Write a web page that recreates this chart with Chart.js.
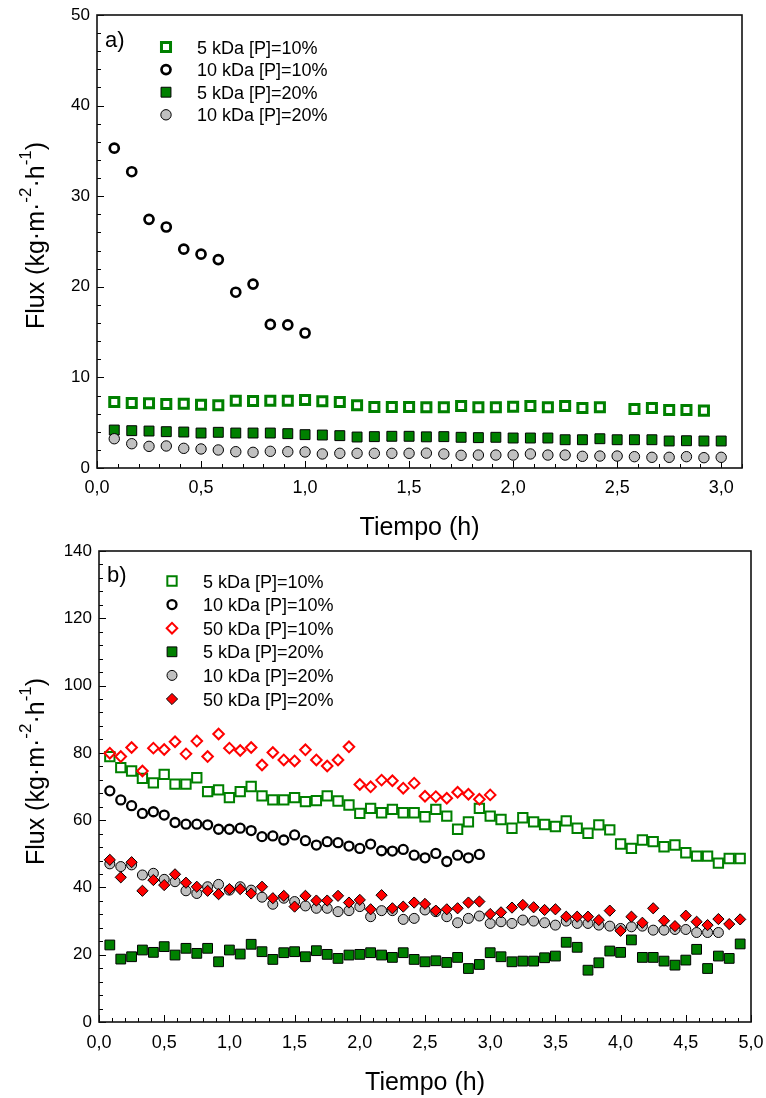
<!DOCTYPE html>
<html><head><meta charset="utf-8">
<script src="https://cdn.jsdelivr.net/npm/chart.js@4.4.1/dist/chart.umd.min.js"></script>
<style>
html,body{margin:0;padding:0;background:#fff;}
#wa{position:absolute;left:0;top:0;width:766px;height:540px;}
#wb{position:absolute;left:0;top:540px;width:766px;height:558px;}
</style></head><body>
<div id="wa"><canvas id="ca"></canvas></div>
<div id="wb"><canvas id="cb"></canvas></div>
<script>
// ---------- DATA ----------
const tiempo = [0.083,0.167,0.250,0.333,0.417,0.500,0.583,0.667,0.750,0.833,0.917,1.000,1.083,1.167,1.250,1.333,1.417,1.500,1.583,1.667,1.750,1.833,1.917,2.000,2.083,2.167,2.250,2.333,2.417,2.500,2.583,2.667,2.750,2.833,2.917,3.000,3.083,3.167,3.250,3.333,3.417,3.500,3.583,3.667,3.750,3.833,3.917,4.000,4.083,4.167,4.250,4.333,4.417,4.500,4.583,4.667,4.750,4.833,4.917];

// Panel a)
const a_5kDa_10 = [7.28,7.17,7.14,7.06,7.10,6.99,6.92,7.43,7.39,7.43,7.43,7.51,7.36,7.28,6.92,6.73,6.73,6.73,6.70,6.70,6.84,6.70,6.70,6.77,6.84,6.70,6.84,6.62,6.70,null,6.51,6.62,6.40,6.40,6.33,null];
const a_10kDa_10 = [35.3,32.7,27.45,26.6,24.15,23.6,23.0,19.4,20.3,15.85,15.8,14.9];
const a_5kDa_20 = [4.19,4.12,4.08,4.01,3.97,3.86,3.94,3.86,3.86,3.86,3.79,3.68,3.64,3.57,3.42,3.46,3.50,3.50,3.44,3.46,3.39,3.35,3.39,3.31,3.31,3.31,3.12,3.12,3.23,3.12,3.12,3.12,2.98,3.01,2.98,2.98];
const a_10kDa_20 = [3.23,2.68,2.39,2.43,2.17,2.10,1.99,1.80,1.73,1.84,1.80,1.77,1.55,1.62,1.62,1.62,1.62,1.62,1.64,1.55,1.40,1.43,1.43,1.43,1.55,1.43,1.43,1.29,1.32,1.32,1.25,1.18,1.18,1.25,1.14,1.18];

// Panel b)
const b_5kDa_10 = [78.9,75.6,74.6,72.4,71.1,73.6,70.7,70.7,72.6,68.5,69.0,66.7,68.5,70.0,67.2,66.0,66.0,66.7,65.5,65.8,67.2,65.7,64.5,62.0,63.5,62.2,63.2,62.2,62.2,61.0,63.2,61.2,57.3,59.5,63.5,61.2,60.2,57.6,60.7,59.5,58.7,58.1,59.8,57.6,56.1,58.6,57.1,52.9,51.6,54.1,53.6,52.1,52.6,50.3,49.3,49.3,47.2,48.6,48.6];
const b_10kDa_10 = [68.7,66.0,64.3,62.0,62.5,61.5,59.3,58.8,58.8,58.6,57.3,57.3,57.6,56.9,55.1,55.3,54.1,55.6,53.9,52.6,53.6,53.3,52.3,51.6,52.9,50.9,50.8,51.3,49.6,48.8,50.1,47.7,49.6,48.8,49.8];
const b_50kDa_10 = [79.9,78.9,81.6,74.6,81.4,81.0,83.3,79.7,83.5,78.9,85.6,81.4,80.7,81.6,76.4,80.1,77.9,77.6,80.9,77.9,76.1,77.9,81.8,70.6,69.9,71.9,71.7,69.5,71.0,67.1,67.0,66.5,68.3,67.7,66.2,67.5];
const b_5kDa_20 = [22.9,18.7,19.4,21.4,20.7,22.4,19.9,21.9,20.4,21.9,17.9,21.4,20.2,23.1,20.9,18.6,20.6,20.9,19.4,21.2,20.1,18.9,19.9,20.1,20.6,19.9,19.2,20.6,18.6,17.9,18.2,17.7,19.2,15.9,17.1,20.6,19.4,17.9,18.1,18.1,19.1,19.6,23.7,22.2,15.4,17.6,21.1,20.7,24.4,19.2,19.2,18.1,16.9,18.4,21.6,15.9,19.6,18.9,23.2];
const b_10kDa_20 = [47.0,46.2,46.7,43.7,44.2,42.4,41.7,39.0,38.2,40.2,40.9,39.2,40.2,39.2,37.1,35.0,36.8,35.8,34.5,33.8,33.8,32.8,33.1,34.3,31.3,33.1,33.1,30.5,30.8,33.3,32.8,31.3,29.5,30.8,31.5,29.3,29.8,29.3,30.3,30.0,29.5,28.8,30.0,29.3,29.3,28.8,28.5,27.8,28.3,28.5,27.3,27.3,27.5,27.5,26.6,26.6,26.6];
const b_50kDa_20 = [48.2,43.0,47.5,39.0,42.2,40.7,43.9,41.4,40.2,39.0,38.0,39.5,39.5,38.2,40.2,36.8,37.5,34.3,37.5,36.1,36.1,37.5,35.5,36.3,33.5,37.7,33.8,34.3,35.5,35.1,33.1,33.5,33.8,35.5,35.8,32.1,32.6,34.0,34.8,34.1,33.3,33.5,31.3,31.3,31.3,30.3,33.1,27.1,31.3,29.5,33.8,30.1,28.5,31.6,29.8,28.8,30.6,29.1,30.5];

const seriesA = ['5 kDa [P]=10%','10 kDa [P]=10%','5 kDa [P]=20%','10 kDa [P]=20%'];
const seriesB = ['5 kDa [P]=10%','10 kDa [P]=10%','50 kDa [P]=10%','5 kDa [P]=20%','10 kDa [P]=20%','50 kDa [P]=20%'];

const xTicksA = [0,0.5,1.0,1.5,2.0,2.5,3.0];
const xTicksB = [0,0.5,1.0,1.5,2.0,2.5,3.0,3.5,4.0,4.5,5.0];
const yTicksA = [0,10,20,30,40,50];
const yTicksB = [0,20,40,60,80,100,120,140];

const xTitle = 'Tiempo (h)';
const panelTags = ['a)','b)'];

// ---------- STYLE ----------
const FF = "'Liberation Sans', Arial, Helvetica, sans-serif";
const GREEN = '#008000', RED = '#ff0000', GREY = '#c0c0c0', NONE = 'rgba(255,255,255,0)';

function pts(vals){ return vals.map((v,i)=>({x: tiempo[i], y: v})); }
function ds(label, vals, style, r, bw, border, fill, order){
  return {label, data: pts(vals), showLine:false, pointStyle:style, pointRadius:r, pointHoverRadius:r,
          pointBorderWidth:bw, pointHoverBorderWidth:bw, pointBorderColor:border, pointBackgroundColor:fill,
          borderColor:border, backgroundColor:fill, order};
}
const fmtX = v => Number(v).toFixed(1).replace('.', ',');

// ---------- DECORATION PLUGIN ----------
const deco = {
  id:'deco',
  beforeDatasetsDraw(chart, args, o){
    const {ctx, chartArea:ca, scales:{x, y}} = chart;
    ctx.save();
    ctx.strokeStyle = '#000'; ctx.lineWidth = 1;
    ctx.beginPath();
    const nx = Math.round((x.max - x.min)/o.xMinor);
    for (let k=0;k<=nx;k++){
      const v = x.min + k*o.xMinor;
      const r = v/o.xMajor, major = Math.abs(r-Math.round(r))<1e-6;
      const px = Math.round(x.getPixelForValue(v))+0.5;
      ctx.moveTo(px, ca.bottom); ctx.lineTo(px, ca.bottom-(major?7:4));
    }
    const ny = Math.round((y.max - y.min)/o.yMinor);
    for (let k=0;k<=ny;k++){
      const v = y.min + k*o.yMinor;
      const r = v/o.yMajor, major = Math.abs(r-Math.round(r))<1e-6;
      const py = Math.round(y.getPixelForValue(v))+0.5;
      ctx.moveTo(ca.left, py); ctx.lineTo(ca.left+(major?7:4), py);
    }
    ctx.stroke();
    ctx.lineWidth = 1.6; ctx.strokeStyle = '#111';
    ctx.strokeRect(ca.left, ca.top, ca.right-ca.left, ca.bottom-ca.top);
    ctx.restore();
  },
  afterDraw(chart, args, o){
    const {ctx, chartArea:ca} = chart;
    ctx.save();
    ctx.fillStyle = '#000';
    // panel tag
    ctx.font = '22px ' + FF; ctx.textAlign = 'left'; ctx.textBaseline = 'alphabetic';
    ctx.fillText(o.tag, o.tagX, o.tagY);
    // legend
    chart.data.datasets.forEach((d, i) => {
      const cy = o.legY0 + i*o.legDy;
      ctx.save();
      ctx.fillStyle = d.pointBackgroundColor; ctx.strokeStyle = d.pointBorderColor; ctx.lineWidth = d.pointBorderWidth;
      Chart.helpers.drawPoint(ctx, {pointStyle:d.pointStyle, radius:d.pointRadius, rotation:0, borderWidth:d.pointBorderWidth}, o.legX, cy);
      ctx.restore();
      ctx.font = '18px ' + FF; ctx.fillStyle = '#000'; ctx.textAlign='left'; ctx.textBaseline='alphabetic';
      ctx.fillText(d.label, o.legTextX, cy + 6.5);
    });
    // x title
    ctx.font = '25px ' + FF; ctx.textAlign = 'center'; ctx.textBaseline = 'alphabetic';
    ctx.fillText(xTitle, (ca.left+ca.right)/2, o.xTitleY);
    // y title with superscripts
    const segs = [['Flux (kg\u00b7m\u00b7',false],['-2',true],['\u00b7h',false],['-1',true],[')',false]];
    ctx.translate(o.yTitleX, (ca.top+ca.bottom)/2 + o.yTitleDy);
    ctx.rotate(-Math.PI/2);
    ctx.textAlign = 'left';
    let w = 0;
    segs.forEach(s => { ctx.font = (s[1]?'17px ':'25px ') + FF; w += ctx.measureText(s[0]).width; });
    let xx = -w/2;
    segs.forEach(s => { ctx.font = (s[1]?'17px ':'25px ') + FF; ctx.fillText(s[0], xx, s[1] ? -13 : 0); xx += ctx.measureText(s[0]).width; });
    ctx.restore();
  }
};

function baseScales(xmin, xmax, xticks, ymin, ymax, yticks, yWidth, xHeight, xPad){
  return {
    x: {type:'linear', min:xmin, max:xmax,
        grid:{display:false, drawTicks:false}, border:{display:false},
        ticks:{font:{family:FF, size:18}, color:'#000', padding:xPad, maxRotation:0, autoSkip:false, includeBounds:false, callback: v => fmtX(v)},
        afterBuildTicks: s => { s.ticks = xticks.map(v => ({value:v})); },
        afterFit: s => { s.height = xHeight; s.paddingLeft = 0; s.paddingRight = 0; s.paddingTop = 0; s.paddingBottom = 0; }},
    y: {type:'linear', min:ymin, max:ymax,
        grid:{display:false, drawTicks:false}, border:{display:false},
        ticks:{font:{family:FF, size:17}, color:'#000', padding:7, autoSkip:false, includeBounds:false},
        afterBuildTicks: s => { s.ticks = yticks.map(v => ({value:v})); },
        afterFit: s => { s.width = yWidth; s.paddingLeft = 0; s.paddingRight = 0; s.paddingTop = 0; s.paddingBottom = 0; }}
  };
}

// ---------- CHART a) ----------
new Chart(document.getElementById('ca'), {
  type:'scatter',
  data:{datasets:[
    ds(seriesA[0], a_5kDa_10, 'rect', 6.4, 3, GREEN, NONE, 4),
    ds(seriesA[1], a_10kDa_10, 'circle', 4.5, 2.7, '#000', NONE, 3),
    ds(seriesA[2], a_5kDa_20, 'rect', 7, 1, '#000', GREEN, 2),
    ds(seriesA[3], a_10kDa_20, 'circle', 5.2, 1, '#000', GREY, 1)
  ]},
  options:{
    responsive:true, maintainAspectRatio:false, animation:false,
    layout:{padding:{left:0, top:15, right:24, bottom:0}},
    scales: baseScales(0, 3.1, xTicksA, 0, 50, yTicksA, 97, 72, 9),
    plugins:{legend:{display:false}, tooltip:{enabled:false},
      deco:{xMinor:0.1, xMajor:0.5, yMinor:2, yMajor:10, tag:panelTags[0], tagX:105, tagY:47,
            legX:166, legTextX:197, legY0:47, legDy:22.6, xTitleY:535, yTitleX:44, yTitleDy:-6}}
  },
  plugins:[deco]
});

// ---------- CHART b) ----------
new Chart(document.getElementById('cb'), {
  type:'scatter',
  data:{datasets:[
    ds(seriesB[0], b_5kDa_10, 'rect', 6.6, 2, GREEN, NONE, 6),
    ds(seriesB[1], b_10kDa_10, 'circle', 4.5, 2.3, '#000', NONE, 5),
    ds(seriesB[2], b_50kDa_10, 'rectRot', 5.3, 2, RED, NONE, 4),
    ds(seriesB[3], b_5kDa_20, 'rect', 6.9, 1, '#000', GREEN, 3),
    ds(seriesB[4], b_10kDa_20, 'circle', 5, 1, '#000', GREY, 2),
    ds(seriesB[5], b_50kDa_20, 'rectRot', 5.6, 1, '#000', RED, 1)
  ]},
  options:{
    responsive:true, maintainAspectRatio:false, animation:false,
    layout:{padding:{left:0, top:11, right:15, bottom:0}},
    scales: baseScales(0, 5.0, xTicksB, 0, 140, yTicksB, 99, 76, 10),
    plugins:{legend:{display:false}, tooltip:{enabled:false},
      deco:{xMinor:0.1, xMajor:0.5, yMinor:4, yMajor:20, tag:panelTags[1], tagX:107, tagY:42,
            legX:172, legTextX:203, legY0:41, legDy:23.6, xTitleY:550, yTitleX:44, yTitleDy:-15}}
  },
  plugins:[deco]
});
</script>
</body></html>
